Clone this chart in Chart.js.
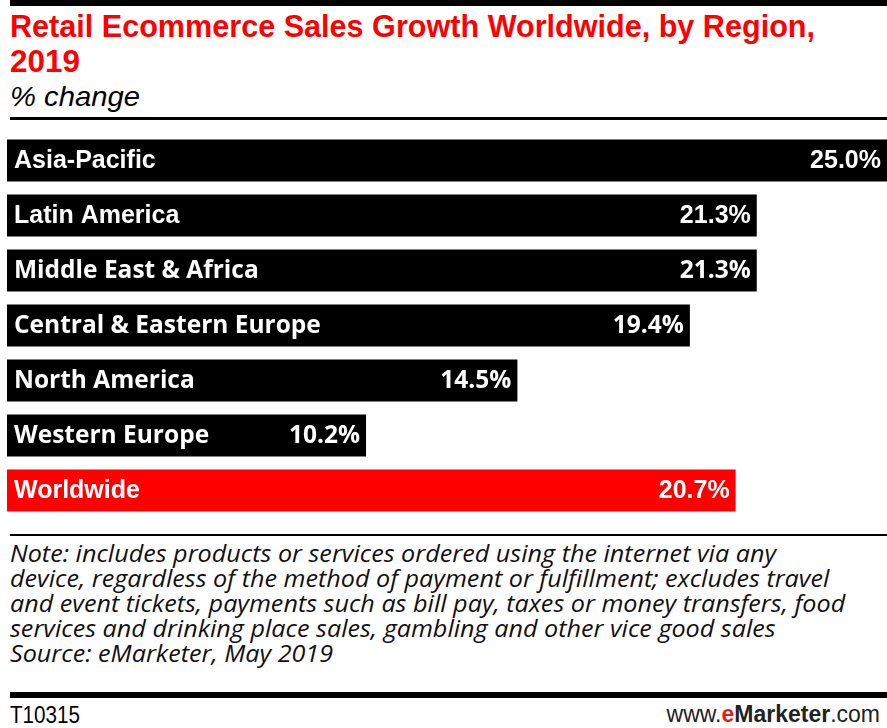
<!DOCTYPE html>
<html>
<head>
<meta charset="utf-8">
<script src="https://cdn.jsdelivr.net/npm/chart.js@4"></script>
<style>
  body { margin: 0; background: #fff; width: 887px; height: 728px; overflow: hidden; position: relative; }
  .rule { position: absolute; left: 10px; right: 0; background: #000; }
  .fit { display: inline-block; white-space: nowrap; transform-origin: 0 50%; }
  #title { position: absolute; left: 10px; top: 9px; color: #ff0000; font: bold 32px 'Liberation Sans', Arial, sans-serif; line-height: 35px; }
  #sub { position: absolute; left: 10px; top: 81px; font: italic 28px 'Liberation Sans', sans-serif; }
  #chartBox { position: absolute; left: 0; top: 133px; width: 887px; height: 385px; }
  #note { position: absolute; left: 10px; top: 541px; font: italic 23px 'Open Sans', sans-serif; line-height: 25px; color: #111; transform-origin: 0 0; white-space: nowrap; }
  #code { position: absolute; left: 10px; top: 702px; font: 23px 'Liberation Sans', sans-serif; }
  #site { position: absolute; right: 7px; top: 701px; font: 23px 'Liberation Sans Narrow', sans-serif; color: #222; }
  #site b { color: #222; } #site .e { color: #e41b1b; font-weight: bold; }
</style>
</head>
<body>
<div class="rule" style="top:0;height:6px"></div>
<div id="title"><span class="fit" data-w="805">Retail Ecommerce Sales Growth Worldwide, by Region,</span><br><span class="fit" data-w="70">2019</span></div>
<div id="sub"><span class="fit" data-w="130">% change</span></div>
<div class="rule" style="top:117px;height:3px"></div>
<div id="chartBox"><canvas id="chart"></canvas></div>
<div class="rule" style="top:534px;height:2px"></div>
<div id="note"><span id="noteFirst">Note: includes products or services ordered using the internet via any</span><br>device, regardless of the method of payment or fulfillment; excludes travel<br>and event tickets, payments such as bill pay, taxes or money transfers, food<br>services and drinking place sales, gambling and other vice good sales<br>Source: eMarketer, May 2019</div>
<div class="rule" style="top:692px;height:6px"></div>
<div id="code"><span class="fit" data-w="70">T10315</span></div>
<div id="site">www.<span class="e">e</span><b>Marketer</b>.com</div>
<script>
const regions = ['Asia-Pacific', 'Latin America', 'Middle East & Africa', 'Central & Eastern Europe', 'North America', 'Western Europe', 'Worldwide'];
const growth = [25.0, 21.3, 21.3, 19.4, 14.5, 10.2, 20.7];
const barColors = ['#000', '#000', '#000', '#000', '#000', '#000', '#ff0000'];

// squeeze text spans to the width they have in the original
document.querySelectorAll('.fit').forEach(el => {
  const w = el.getBoundingClientRect().width;
  el.style.transform = `scaleX(${el.dataset.w / w})`;
});
const note = document.getElementById('note');
const noteW = document.getElementById('noteFirst').getBoundingClientRect().width;
note.style.transform = `scaleX(${766 / noteW})`;

const narrowRows = [0, 1, 6]; // these rows use the condensed face in the original

const barLabels = {
  id: 'barLabels',
  afterDatasetsDraw(chart) {
    const ctx = chart.ctx;
    const meta = chart.getDatasetMeta(0);
    ctx.save();
    ctx.fillStyle = '#fff';
    ctx.textBaseline = 'middle';
    meta.data.forEach((bar, i) => {
      ctx.font = narrowRows.includes(i)
        ? "bold 25px 'Liberation Sans', Arial, sans-serif"
        : "bold 24.5px 'Open Sans', sans-serif";
      ctx.textAlign = 'left';
      ctx.fillText(regions[i], bar.base + 7, bar.y + 1);
      ctx.textAlign = 'right';
      ctx.fillText(growth[i].toFixed(1) + '%', bar.x - 6, bar.y + 1);
    });
    ctx.restore();
  }
};

new Chart(document.getElementById('chart'), {
  type: 'bar',
  data: {
    labels: regions,
    datasets: [{
      data: growth,
      backgroundColor: barColors,
      categoryPercentage: 1,
      barPercentage: 42 / 55,
      borderWidth: 0
    }]
  },
  options: {
    indexAxis: 'y',
    responsive: true,
    maintainAspectRatio: false,
    animation: false,
    layout: { padding: { left: 7, right: 0, top: 0, bottom: 0 } },
    scales: {
      x: { display: false, min: 0, max: 25 },
      y: { display: false }
    },
    plugins: { legend: { display: false }, tooltip: { enabled: false } }
  },
  plugins: [barLabels]
});
</script>
</body>
</html>
